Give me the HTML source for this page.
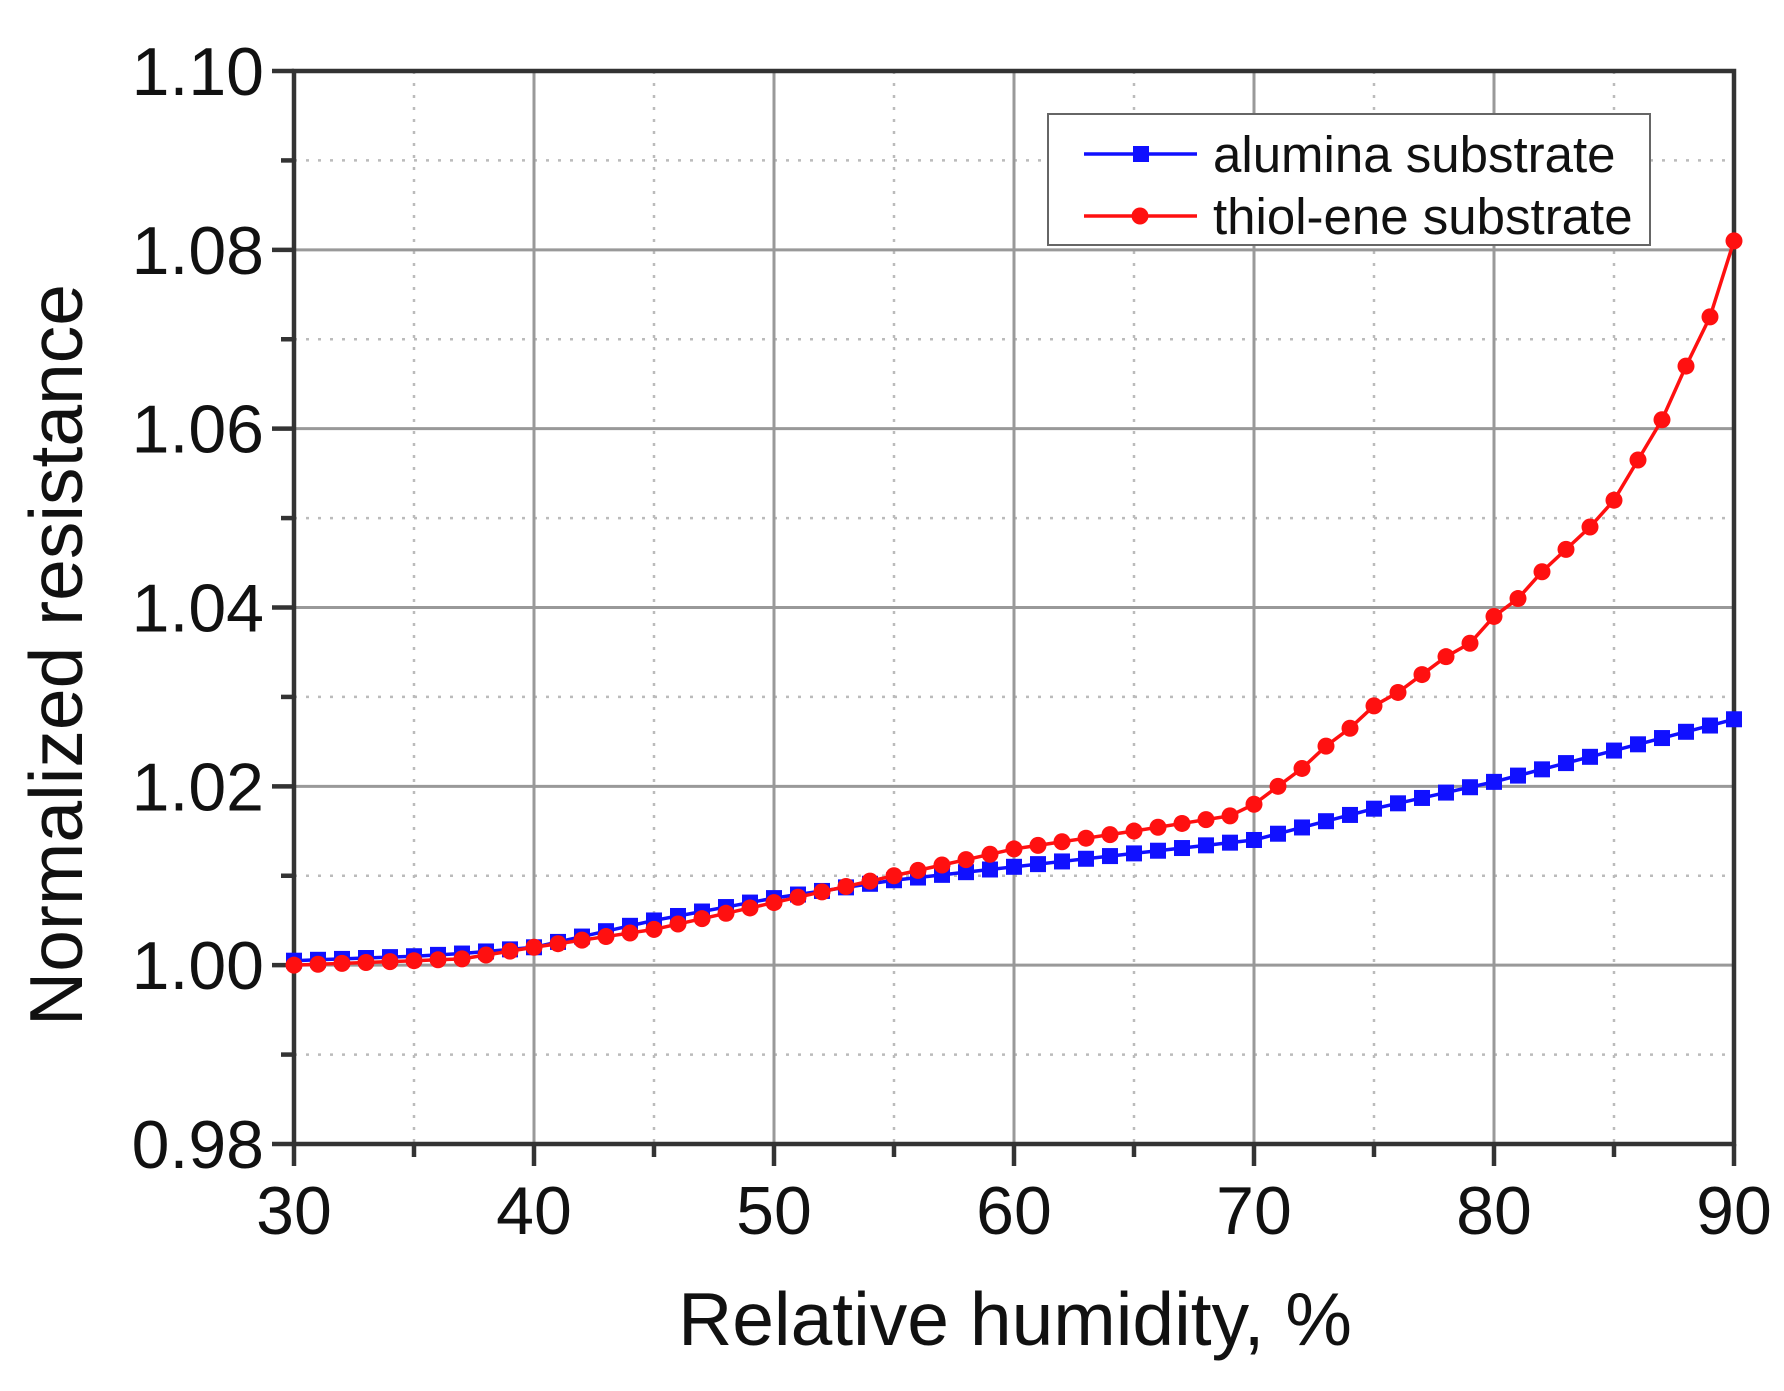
<!DOCTYPE html>
<html><head><meta charset="utf-8"><style>
html,body{margin:0;padding:0;background:#fff;}
svg{display:block;font-family:"Liberation Sans",Arial,sans-serif;}
</style></head><body>
<svg id="s" width="1784" height="1391" xmlns="http://www.w3.org/2000/svg"></svg>
<script>
const L=294,R=1734,T=71,B=1144;
const X=v=>L+(v-30)*(R-L)/60, Y=v=>B-(v-0.98)*(B-T)/0.12;
let h='';
for(let x=35;x<90;x+=10)h+=`<line x1="${X(x)}" y1="${T}" x2="${X(x)}" y2="${B}" stroke="#bbb" stroke-width="2.5" stroke-dasharray="3,9"/>`;
for(let i=1;i<12;i+=2){const y=Y(0.98+i*0.01);h+=`<line x1="${L}" y1="${y}" x2="${R}" y2="${y}" stroke="#bbb" stroke-width="2.5" stroke-dasharray="3,9"/>`;}
for(let x=40;x<90;x+=10)h+=`<line x1="${X(x)}" y1="${T}" x2="${X(x)}" y2="${B}" stroke="#999" stroke-width="3"/>`;
for(let i=2;i<12;i+=2){const y=Y(0.98+i*0.01);h+=`<line x1="${L}" y1="${y}" x2="${R}" y2="${y}" stroke="#999" stroke-width="3"/>`;}
h+=`<rect x="${L}" y="${T}" width="${R-L}" height="${B-T}" fill="none" stroke="#333" stroke-width="4.5"/>`;
for(let x=30;x<=90;x+=5){const maj=x%10==0;h+=`<line x1="${X(x)}" y1="${B}" x2="${X(x)}" y2="${B+(maj?22:13)}" stroke="#333" stroke-width="4.5"/>`;
 if(maj)h+=`<text x="${X(x)}" y="${B+90}" font-size="68" text-anchor="middle" fill="#111">${x}</text>`;}
for(let i=0;i<=12;i++){const v=0.98+i*0.01,y=Y(v),maj=i%2==0;h+=`<line x1="${L-(maj?22:13)}" y1="${y}" x2="${L}" y2="${y}" stroke="#333" stroke-width="4.5"/>`;
 if(maj)h+=`<text x="${L-30}" y="${y+24}" font-size="68" text-anchor="end" fill="#111">${v.toFixed(2)}</text>`;}
h+=`<text x="1015" y="1345" font-size="75" text-anchor="middle" fill="#111">Relative humidity, %</text>`;
h+=`<text transform="translate(82,655) rotate(-90)" font-size="75" text-anchor="middle" fill="#111">Normalized resistance</text>`;
function interp(pts,x){for(let i=0;i<pts.length-1;i++){const[a,b]=pts[i],[c,d]=pts[i+1];if(x>=a&&x<=c)return b+(d-b)*(x-a)/(c-a);}return pts[pts.length-1][1];}
const blue=[[30,1.0005],[35,1.001],[37,1.0013],[40,1.002],[45,1.005],[50,1.0075],[55,1.0095],[60,1.011],[65,1.0125],[70,1.014],[75,1.0175],[80,1.0205],[85,1.024],[90,1.0275]];
const red=[[30,1.0],[35,1.0005],[37,1.0007],[40,1.002],[45,1.004],[50,1.007],[55,1.010],[60,1.013],[65,1.015],[69,1.0167],[70,1.018],[71,1.020],[72,1.022],[73,1.0245],[74,1.0265],[75,1.029],[76,1.0305],[77,1.0325],[78,1.0345],[79,1.036],[80,1.039],[81,1.041],[82,1.044],[83,1.0465],[84,1.049],[85,1.052],[86,1.0565],[87,1.061],[88,1.067],[89,1.0725],[90,1.081]];
let pb='',pr='',mb='',mr='';
for(let x=30;x<=90;x++){const yb=Y(interp(blue,x)),yr=Y(interp(red,x)),xx=X(x);
 pb+=(x==30?'M':'L')+xx+','+yb;pr+=(x==30?'M':'L')+xx+','+yr;
 mb+=`<rect x="${xx-8}" y="${yb-8}" width="16" height="16" fill="#1010ff"/>`;
 mr+=`<circle cx="${xx}" cy="${yr}" r="8.5" fill="#ff1010"/>`;}
h+=`<path d="${pb}" fill="none" stroke="#1010ff" stroke-width="3.5"/>${mb}`;
h+=`<path d="${pr}" fill="none" stroke="#ff1010" stroke-width="3.5"/>${mr}`;
h+=`<rect x="1048" y="114" width="602" height="131" fill="#fff" stroke="#666" stroke-width="2"/>`;
h+=`<line x1="1084" y1="154" x2="1197" y2="154" stroke="#1010ff" stroke-width="3.5"/><rect x="1133" y="146" width="16" height="16" fill="#1010ff"/>`;
h+=`<text x="1213" y="172" font-size="51" fill="#111">alumina substrate</text>`;
h+=`<line x1="1084" y1="216" x2="1197" y2="216" stroke="#ff1010" stroke-width="3.5"/><circle cx="1140" cy="216" r="8.5" fill="#ff1010"/>`;
h+=`<text x="1213" y="234" font-size="51" fill="#111">thiol-ene substrate</text>`;
document.getElementById('s').innerHTML=h;
</script>
</body></html>
